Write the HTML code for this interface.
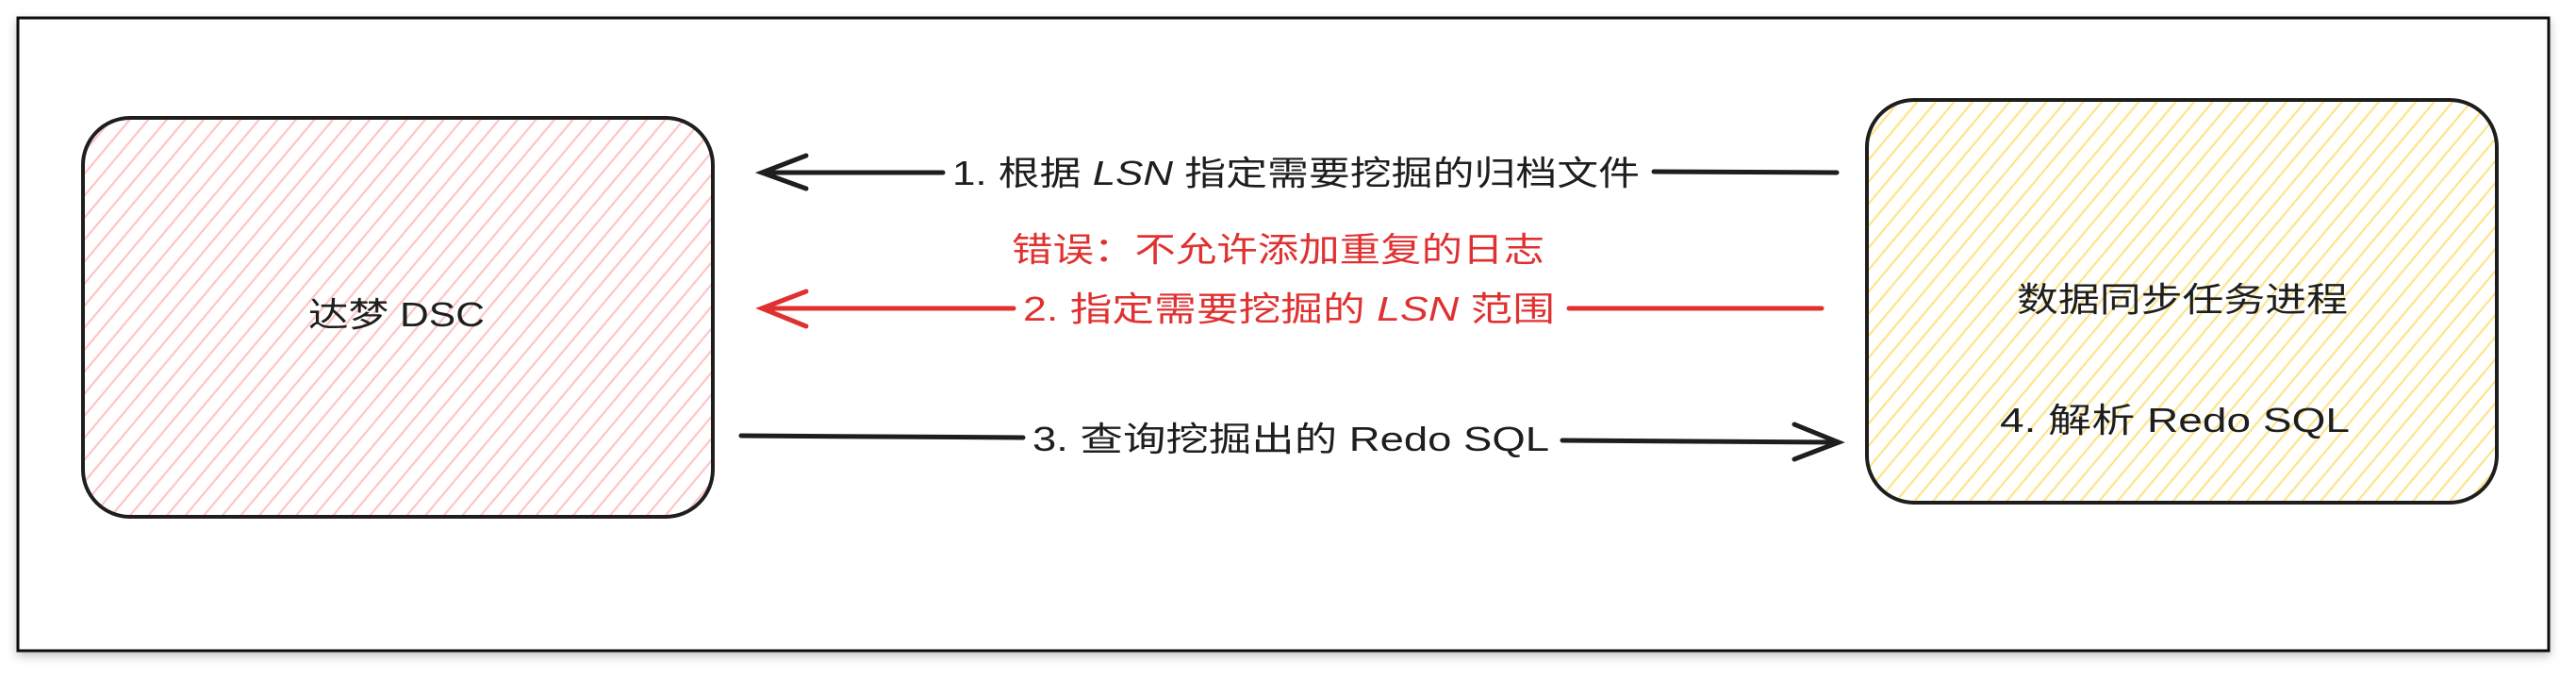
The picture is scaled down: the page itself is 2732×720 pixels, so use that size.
<!DOCTYPE html>
<html><head><meta charset="utf-8"><style>
html,body{margin:0;padding:0;background:#fff;}
svg{display:block;}
text{font-family:"Liberation Sans","Noto Sans CJK SC",sans-serif;font-size:36px;}
</style></head><body>
<svg width="2732" height="720" viewBox="0 0 2732 720" xmlns="http://www.w3.org/2000/svg">
<defs>
<pattern id="hp" width="15" height="15" patternUnits="userSpaceOnUse" patternTransform="rotate(40)">
<line x1="7" y1="0" x2="7" y2="15" stroke="#ffc4c4" stroke-width="2.2"/>
</pattern>
<pattern id="hy" width="15" height="15" patternUnits="userSpaceOnUse" patternTransform="rotate(40)">
<line x1="7" y1="0" x2="7" y2="15" stroke="#fbe58a" stroke-width="2.2"/>
</pattern>
<filter id="sh" x="-2%" y="-5%" width="104%" height="112%"><feDropShadow dx="0" dy="4" stdDeviation="5" flood-color="#000" flood-opacity="0.25"/></filter>
</defs>
<rect x="19" y="19" width="2684" height="671" fill="#fff" stroke="#111" stroke-width="3" filter="url(#sh)"/>
<!-- left box -->
<rect x="88" y="125" width="668" height="423" rx="50" fill="url(#hp)" stroke="#1e1e1e" stroke-width="4"/>
<text x="327" y="346" textLength="187" lengthAdjust="spacingAndGlyphs" fill="#1e1e1e">达梦 DSC</text>
<!-- right box -->
<rect x="1980" y="106" width="668" height="427" rx="50" fill="url(#hy)" stroke="#1e1e1e" stroke-width="4"/>
<text x="2139" y="330" textLength="351" lengthAdjust="spacingAndGlyphs" fill="#1e1e1e">数据同步任务进程</text>
<text x="2121" y="458" textLength="371" lengthAdjust="spacingAndGlyphs" fill="#1e1e1e">4. 解析 Redo SQL</text>
<!-- arrow 1 -->
<g stroke="#1e1e1e" stroke-width="5" fill="none" stroke-linecap="round">
<line x1="808" y1="183" x2="1000" y2="183"/>
<polyline points="855,165 808,183 855,200"/>
<line x1="1754" y1="182" x2="1948" y2="183"/>
</g>
<text x="1010" y="196" textLength="729" lengthAdjust="spacingAndGlyphs" fill="#1e1e1e">1. 根据 <tspan font-style="italic">LSN</tspan> 指定需要挖掘的归档文件</text>
<!-- error -->
<text x="1073" y="277" textLength="565" lengthAdjust="spacingAndGlyphs" fill="#e03131">错误：不允许添加重复的日志</text>
<!-- arrow 2 -->
<g stroke="#e03131" stroke-width="5" fill="none" stroke-linecap="round">
<line x1="808" y1="327" x2="1075" y2="327"/>
<polyline points="855,309 808,327 855,346"/>
<line x1="1664" y1="327" x2="1932" y2="327"/>
</g>
<text x="1085" y="340" textLength="564" lengthAdjust="spacingAndGlyphs" fill="#e03131">2. 指定需要挖掘的 <tspan font-style="italic">LSN</tspan> 范围</text>
<!-- arrow 3 -->
<g stroke="#1e1e1e" stroke-width="5" fill="none" stroke-linecap="round">
<line x1="786" y1="462" x2="1085" y2="464"/>
<line x1="1657" y1="467" x2="1950" y2="469"/>
<polyline points="1903,450 1950,469 1903,487"/>
</g>
<text x="1095" y="478" textLength="548" lengthAdjust="spacingAndGlyphs" fill="#1e1e1e">3. 查询挖掘出的 Redo SQL</text>
</svg>
</body></html>
